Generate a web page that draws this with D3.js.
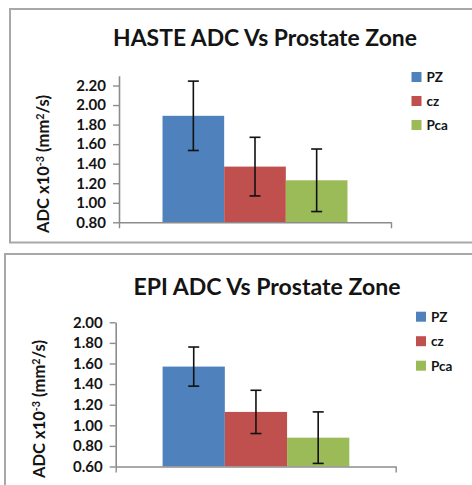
<!DOCTYPE html>
<html>
<head>
<meta charset="utf-8">
<script src="https://cdn.jsdelivr.net/npm/d3@7"></script>
<style>
  html, body { margin: 0; padding: 0; background: #fff; }
  svg { display: block; }
  text { font-family: Lato, "Open Sans", sans-serif; fill: #141414; }
</style>
</head>
<body>
<svg id="chart" width="472" height="485"></svg>
<script>
// ---------- data ----------
const zones = ["PZ", "cz", "Pca"];
const colors = ["#4F81BD", "#C0504D", "#9BBB59"];

const hasteTitle = "HASTE ADC Vs Prostate Zone";
const hasteMeans = [1.89, 1.37, 1.23];
const hasteErrors = [0.355, 0.30, 0.32];
const hasteTicks = [0.8, 1.0, 1.2, 1.4, 1.6, 1.8, 2.0, 2.2];
const hasteAxisMax = 2.3;

const epiTitle = "EPI ADC Vs Prostate Zone";
const epiMeans = [1.57, 1.13, 0.88];
const epiErrors = [0.19, 0.21, 0.25];
const epiTicks = [0.6, 0.8, 1.0, 1.2, 1.4, 1.6, 1.8, 2.0];
const epiAxisMax = 2.0;

const svg = d3.select("#chart");

function fitText(sel, targetWidth, size) {
  sel.style("font-size", size + "px");
  const w = sel.node().getComputedTextLength();
  sel.style("font-size", (size * targetWidth / w).toFixed(2) + "px");
}

function drawChart(cfg) {
  const g = svg.append("g");
  // frame
  g.append("rect")
    .attr("x", cfg.frame.x).attr("y", cfg.frame.y)
    .attr("width", cfg.frame.w).attr("height", cfg.frame.h)
    .attr("fill", "none").attr("stroke", "#a8a8a8").attr("stroke-width", 2);

  // title
  const t = g.append("text")
    .attr("x", cfg.titleX).attr("y", cfg.titleY)
    .attr("text-anchor", "middle")
    .style("font-weight", "bold")
    .text(cfg.title);
  fitText(t, cfg.titleW, 22);

  const y = d3.scaleLinear().domain([cfg.ticks[0], cfg.axisMax]).range([cfg.y0, cfg.yTop]);
  const xr = d3.scaleLinear().domain([0, 1]).range([cfg.x0, cfg.x1]);
  const xb = d3.scaleBand().domain(zones)
    .range([xr(cfg.groupStart), xr(cfg.groupEnd)]).padding(0);

  // bars
  g.selectAll(".bar").data(cfg.means).enter().append("rect")
    .attr("x", (d, i) => xb(zones[i]))
    .attr("width", xb.bandwidth())
    .attr("y", d => y(d))
    .attr("height", d => y(cfg.ticks[0]) - y(d))
    .attr("fill", (d, i) => colors[i]);

  // error bars
  const eg = g.append("g").attr("stroke", "#111").attr("stroke-width", 1.6);
  cfg.means.forEach((m, i) => {
    const cx = xb(zones[i]) + xb.bandwidth() / 2;
    const e = cfg.errors[i];
    eg.append("line").attr("x1", cx).attr("x2", cx).attr("y1", y(m + e)).attr("y2", y(m - e));
    eg.append("line").attr("x1", cx - 5.5).attr("x2", cx + 5.5).attr("y1", y(m + e)).attr("y2", y(m + e));
    eg.append("line").attr("x1", cx - 5.5).attr("x2", cx + 5.5).attr("y1", y(m - e)).attr("y2", y(m - e));
  });

  // y axis
  const ya = g.append("g").attr("transform", `translate(${cfg.x0},0)`)
    .call(d3.axisLeft(y).tickValues(cfg.ticks).tickSize(6).tickSizeOuter(0).tickPadding(7)
      .tickFormat(d => d.toFixed(2)));
  ya.select(".domain").attr("stroke", "#8c8c8c").attr("stroke-width", 1.6);
  ya.selectAll(".tick line").attr("stroke", "#8c8c8c").attr("stroke-width", 1.4);
  ya.selectAll(".tick text").style("font-size", "15px").style("font-weight", "bold")
    .style("font-family", "Lato, sans-serif").attr("fill", "#141414");

  // x axis
  const xa = g.append("g").attr("transform", `translate(0,${cfg.y0})`)
    .call(d3.axisBottom(xr).tickValues([0, 1]).tickSize(6).tickSizeOuter(0).tickFormat(""));
  xa.select(".domain").attr("stroke", "#8c8c8c").attr("stroke-width", 1.6);
  xa.selectAll(".tick line").attr("stroke", "#8c8c8c").attr("stroke-width", 1.4);

  // y label
  const yl = g.append("text")
    .attr("transform", `translate(${cfg.labelX},${cfg.labelY}) rotate(-90)`)
    .attr("text-anchor", "middle")
    .style("font-weight", "bold");
  yl.append("tspan").text("ADC x10");
  yl.append("tspan").attr("dy", -5).style("font-size", "0.65em").text("-3");
  yl.append("tspan").attr("dy", 5).text(" (mm");
  yl.append("tspan").attr("dy", -5).style("font-size", "0.65em").text("2");
  yl.append("tspan").attr("dy", 5).text("/s)");
  fitText(yl, 138, 14);

  // legend
  const lg = g.append("g");
  zones.forEach((z, i) => {
    const cy = cfg.legY + i * cfg.legStep;
    lg.append("rect").attr("x", cfg.legX).attr("y", cy - 5).attr("width", 10).attr("height", 10)
      .attr("fill", colors[i]);
    lg.append("text").attr("x", cfg.legX + 15).attr("y", cy + 5)
      .style("font-size", "13.5px").style("font-weight", "bold").text(z);
  });
}

drawChart({
  frame: { x: 10, y: 9, w: 480, h: 233.5 },
  title: hasteTitle, titleX: 265, titleY: 46, titleW: 304,
  means: hasteMeans, errors: hasteErrors, ticks: hasteTicks, axisMax: hasteAxisMax,
  x0: 119, x1: 391, y0: 222.3, yTop: 222.3 - (hasteAxisMax - 0.8) / 0.2 * 19.54,
  groupStart: 0.16, groupEnd: 0.84,
  labelX: 49, labelY: 164,
  legX: 411.5, legY: 77, legStep: 24
});

drawChart({
  frame: { x: 5, y: 254, w: 480, h: 260 },
  title: epiTitle, titleX: 267, titleY: 295, titleW: 267,
  means: epiMeans, errors: epiErrors, ticks: epiTicks, axisMax: epiAxisMax,
  x0: 115.7, x1: 395.7, y0: 466.5, yTop: 322.3,
  groupStart: 0.1675, groupEnd: 0.8343,
  labelX: 45, labelY: 409,
  legX: 416, legY: 316.7, legStep: 24.5
});
</script>
</body>
</html>
